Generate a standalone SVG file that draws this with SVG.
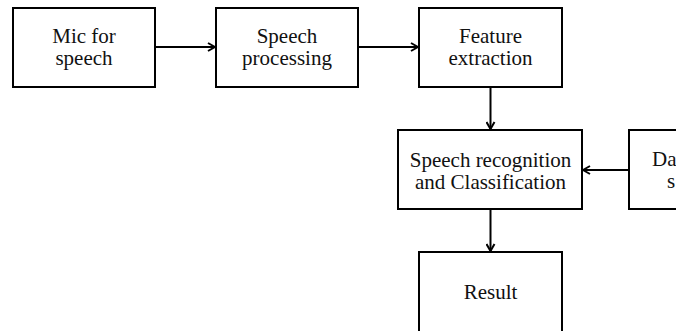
<svg xmlns="http://www.w3.org/2000/svg" width="676" height="331" viewBox="0 0 676 331">
  <style>
    .box { fill: #fff; stroke: #000; stroke-width: 2; }
    .lbl { font-family: "Liberation Serif", "Times New Roman", serif; font-size: 21px; fill: #111; text-anchor: middle; }
    .edge { fill: none; stroke: #000; stroke-width: 2; }
  </style>
  <defs>
    <marker id="arrow" viewBox="0 0 10 10" refX="9" refY="5" markerWidth="10" markerHeight="10" markerUnits="userSpaceOnUse" orient="auto">
      <path d="M2,1 L9,5 L2,9" fill="none" stroke="#000" stroke-width="2"/>
    </marker>
  </defs>
  <rect width="676" height="331" fill="#fff"/>

  <g id="mic">
    <rect class="box" x="13" y="8" width="142" height="79"/>
    <text class="lbl" x="84" y="43">Mic for</text>
    <text class="lbl" x="84" y="65">speech</text>
  </g>
  <g id="processing">
    <rect class="box" x="216" y="8" width="142" height="79"/>
    <text class="lbl" x="287" y="43">Speech</text>
    <text class="lbl" x="287" y="65">processing</text>
  </g>
  <g id="features">
    <rect class="box" x="419" y="8" width="143" height="79"/>
    <text class="lbl" x="490.5" y="43">Feature</text>
    <text class="lbl" x="490.5" y="65">extraction</text>
  </g>
  <g id="recognition">
    <rect class="box" x="398" y="130" width="184" height="79"/>
    <text class="lbl" x="490.5" y="167">Speech recognition</text>
    <text class="lbl" x="490.5" y="189">and Classification</text>
  </g>
  <!-- right-hand source box runs past the right edge; only its first letters show -->
  <g id="database">
    <rect class="box" x="629" y="130" width="120" height="79"/>
    <text class="lbl" x="652" y="166" style="text-anchor:start">Da</text>
    <text class="lbl" x="667" y="188" style="text-anchor:start">s</text>
  </g>
  <g id="result">
    <rect class="box" x="419" y="252" width="143" height="100"/>
    <text class="lbl" x="490.5" y="299">Result</text>
  </g>

  <g id="connectors">
    <line class="edge" x1="155" y1="47" x2="215" y2="47" marker-end="url(#arrow)"/>
    <line class="edge" x1="358" y1="47" x2="418" y2="47" marker-end="url(#arrow)"/>
    <line class="edge" x1="490.5" y1="87" x2="490.5" y2="129" marker-end="url(#arrow)"/>
    <line class="edge" x1="629" y1="170" x2="583" y2="170" marker-end="url(#arrow)"/>
    <line class="edge" x1="490.5" y1="209" x2="490.5" y2="251" marker-end="url(#arrow)"/>
  </g>
</svg>
